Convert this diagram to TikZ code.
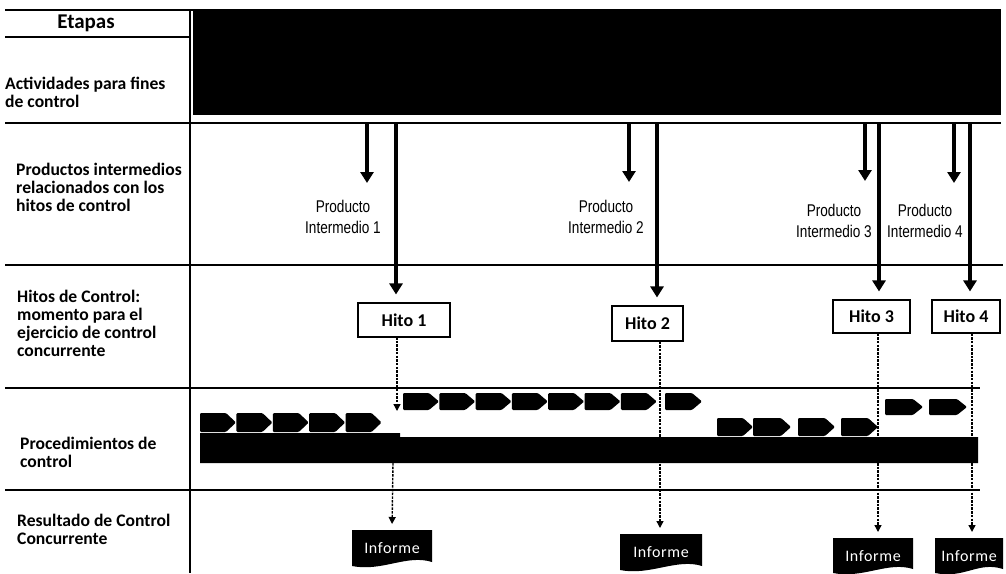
\documentclass[tikz,border=0pt]{standalone}
\usepackage{fontspec}
\setmainfont{Carlito}
\newfontfamily\narrowfont[FakeStretch=0.8]{Liberation Sans}
\usetikzlibrary{arrows.meta}
\tikzset{
  grid/.style={line width=1.8pt, black},
  bigarrow/.style={line width=3.6pt, -{Triangle[length=11pt,width=13pt]}},
  dasharrow/.style={line width=1.4pt, dash pattern=on 2.5pt off 1.2pt, -{Triangle[length=7pt,width=7pt]}},
  rowlabel/.style={anchor=west, inner sep=0, align=left, font=\fontsize{17.6}{18}\selectfont\bfseries},
  prodlabel/.style={inner sep=0, align=center, font=\narrowfont\fontsize{17}{21}\selectfont},
  hitobox/.style={draw, line width=1.1pt, fill=white, inner sep=0, font=\fontsize{18}{20}\selectfont\bfseries},
  informetext/.style={inner sep=0, text=white, font=\addfontfeatures{LetterSpace=4}\fontsize{16}{18}\selectfont},
  chevfill/.style={fill=black, rounded corners=1.2pt}
}
\newcommand{\chv}[4]{\fill[chevfill] (#1,#2) -- ({#1+#3-10},#2) -- ({#1+#3},{#2+#4/2}) -- ({#1+#3-10},{#2+#4}) -- (#1,{#2+#4}) -- cycle;}
\newcommand{\infshape}[4]{\fill[black] (#1,#2) -- (#3,#2) -- (#3,{#4-4}) .. controls ({#3-25},{#4-12}) and ({#1+30},{#4+6}) .. (#1,#4) -- cycle;}
\begin{document}
\begin{tikzpicture}[x=1pt,y=-1pt]
\useasboundingbox (0,0) rectangle (1006,573);
% top block
\fill[black] (193,10) rectangle (1001,115);
% grid lines
\draw[grid] (5,10) -- (1001,10);
\draw[grid] (5,37) -- (190,37);
\draw[grid] (190,10) -- (190,573);
\draw[grid] (5,123) -- (1001,123);
\draw[grid] (5,265) -- (1003,265);
\draw[grid] (5,388) -- (980,388);
\draw[grid] (5,490) -- (980,490);
% left labels
\node[inner sep=0, font=\fontsize{21}{23}\selectfont\bfseries] (etapas) at (86,23) {Etapas};
\node[rowlabel] (l1) at (5,92) {Actividades para fines\\de control};
\node[rowlabel] (l2) at (16,187) {Productos intermedios\\relacionados con los\\hitos de control};
\node[rowlabel] (l3) at (17,323) {Hitos de Control:\\momento para el\\ejercicio de control\\concurrente};
\node[rowlabel] (l4) at (20,452) {Procedimientos de\\control};
\node[rowlabel] (l5) at (17,529) {Resultado de Control\\Concurrente};
% product labels
\node[prodlabel] (pi1) at (343,217) {Producto\\Intermedio 1};
\node[prodlabel] (pi2) at (606,217) {Producto\\Intermedio 2};
\node[prodlabel] (pi3) at (834,221) {Producto\\Intermedio 3};
\node[prodlabel] (pi4) at (925,221) {Producto\\Intermedio 4};
% hito boxes
\node[hitobox, minimum width=92pt, minimum height=34pt] (h1) at (404,320) {Hito 1};
\node[hitobox, minimum width=71pt, minimum height=35pt] (h2) at (647.5,323.5) {Hito 2};
\node[hitobox, minimum width=77pt, minimum height=33pt] (h3) at (871.5,316.5) {Hito 3};
\node[hitobox, minimum width=68pt, minimum height=33pt] (h4) at (966,316.5) {Hito 4};
% arrow coordinates
\coordinate (s1) at (367,123); \coordinate (s1e) at (367,183);
\coordinate (s2) at (629,123); \coordinate (s2e) at (629,182);
\coordinate (s3) at (865,123); \coordinate (s3e) at (865,181);
\coordinate (s4) at (954,123); \coordinate (s4e) at (954,183);
\coordinate (t1) at (396,123);
\coordinate (t2) at (657,123);
\coordinate (t3) at (879,123);
\coordinate (t4) at (970,123);
\draw[bigarrow] (s1) -- (s1e);
\draw[bigarrow] (s2) -- (s2e);
\draw[bigarrow] (s3) -- (s3e);
\draw[bigarrow] (s4) -- (s4e);
\draw[bigarrow, shorten >=8pt] (t1) -- (t1 |- h1.north);
\draw[bigarrow, shorten >=8pt] (t2) -- (t2 |- h2.north);
\draw[bigarrow, shorten >=8pt] (t3) -- (t3 |- h3.north);
\draw[bigarrow, shorten >=8pt] (t4) -- (t4 |- h4.north);
% informe boxes
\infshape{352}{530}{432}{566}
\infshape{620}{534}{702}{570}
\infshape{833}{538}{913}{573}
\infshape{935}{538}{1003}{573}
\node[informetext] (i1) at (392,548) {Informe};
\node[informetext] (i2) at (661,552) {Informe};
\node[informetext] (i3) at (873,556) {Informe};
\node[informetext] (i4) at (969,556) {Informe};
\coordinate (i1n) at (392,530);
\coordinate (i2n) at (660,534);
\coordinate (i3n) at (878,538);
\coordinate (i4n) at (972,538);
% dashed connectors
\coordinate (d1a) at (397,337);
\coordinate (d1b) at (397,411);
\draw[dasharrow] (d1a) -- (d1b);
\coordinate (d1c) at (393,463);
\draw[dasharrow, shorten >=6pt] (d1c) -- (i1n);
\draw[dasharrow, shorten >=6pt] (i2n |- h2.south) -- (i2n);
\draw[dasharrow, shorten >=6pt] (i3n |- h3.south) -- (i3n);
\draw[dasharrow, shorten >=6pt] (i4n |- h4.south) -- (i4n);
% procedures bar
\fill[black] (200,433) -- (400,433) -- (400,437) -- (978,437) -- (978,463) -- (200,463) -- cycle;
% row A
\foreach \i in {0,...,4} { \chv{200+36.4*\i}{413}{36}{19} }
% row B
\foreach \i in {0,...,6} { \chv{403+36.3*\i}{393}{36}{17} }
\chv{665}{393}{37}{17}
% row C
\chv{717}{418}{36}{18}
\chv{753}{418}{38}{18}
\chv{798}{418}{37}{18}
\chv{841}{418}{37}{18}
% row D
\chv{885}{399}{38}{16}
\chv{929}{399}{38}{16}
\end{tikzpicture}
\end{document}
